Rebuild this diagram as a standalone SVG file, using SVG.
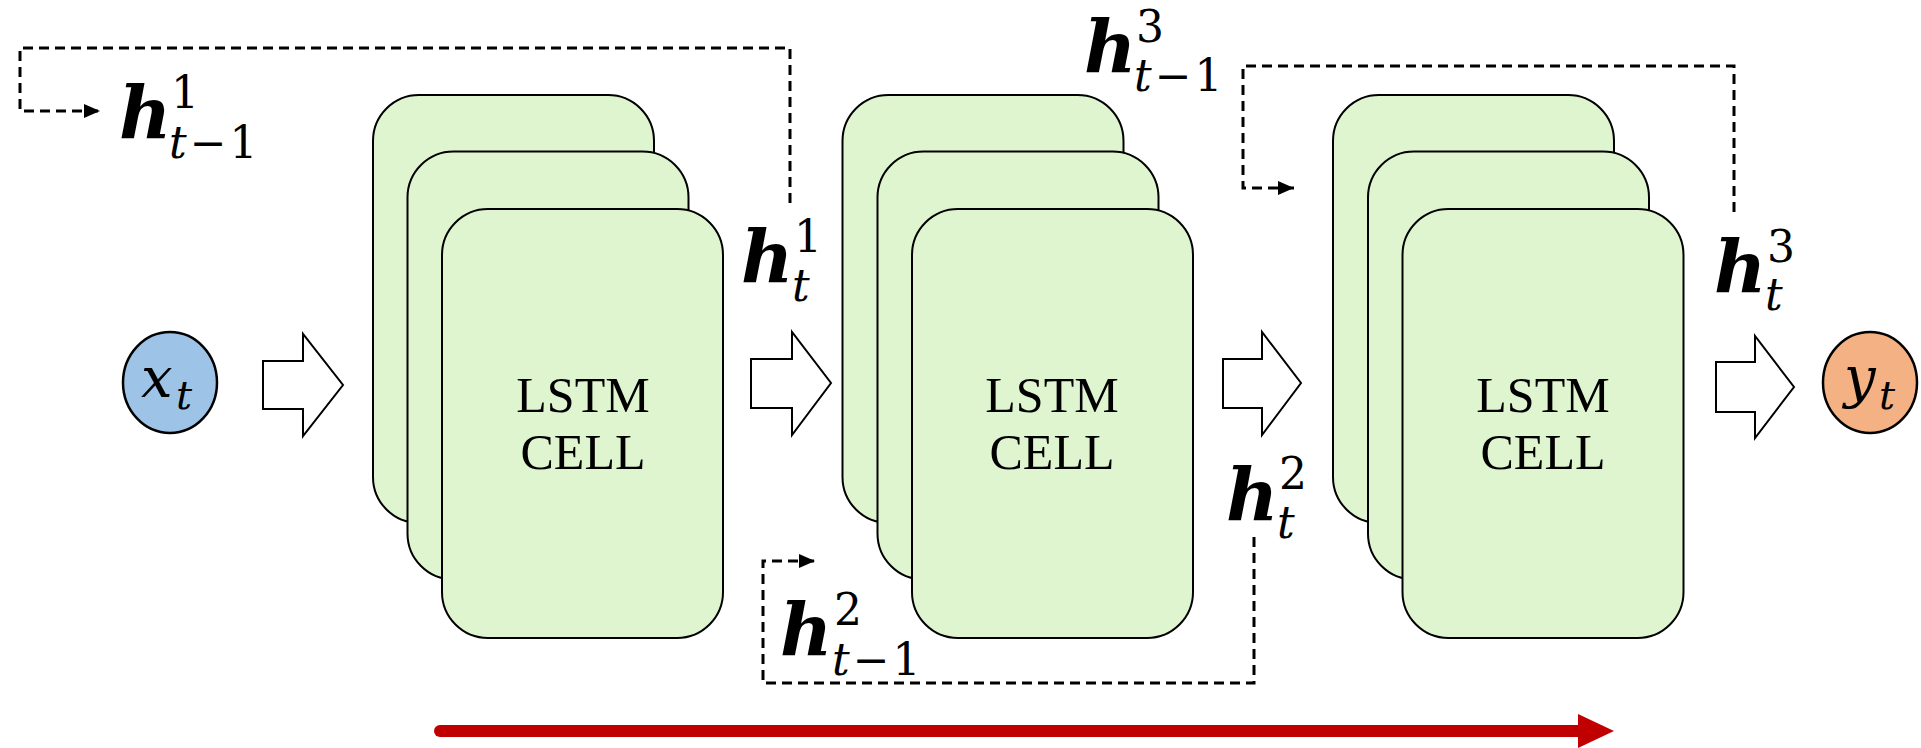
<svg xmlns="http://www.w3.org/2000/svg" width="1921" height="748" viewBox="0 0 1921 748">
  <style>
    .cell { fill: #DFF5CF; stroke: #000; stroke-width: 2; }
    .block { fill: #fff; stroke: #000; stroke-width: 2; stroke-linejoin: miter; }
    .dash { fill: none; stroke: #000; stroke-width: 3; stroke-dasharray: 10 6; }
    .cap { font-family: "Liberation Serif", "Times New Roman", serif; font-size: 50px; text-anchor: middle; fill: #000; }
    .lbl { font-family: "DejaVu Serif", serif; font-size: 44px; fill: #000; }
    .h { font-weight: bold; font-style: italic; font-size: 72px; }
    .it { font-style: italic; }
    .var { font-family: "DejaVu Serif", serif; font-style: italic; fill: #000; }
  </style>
  <defs>
    <marker id="tip" viewBox="0 0 16 14" refX="16" refY="7" markerWidth="16" markerHeight="14" markerUnits="userSpaceOnUse" orient="auto">
      <path d="M0,0 L16,7 L0,14 Z" fill="#000"/>
    </marker>
  </defs>

  <!-- input node -->
  <g id="input-x">
    <ellipse cx="170" cy="382.5" rx="47" ry="50.5" fill="#9DC3E6" stroke="#000" stroke-width="2.5"/>
    <text class="var" font-size="56"><tspan x="141" y="397">x</tspan><tspan x="176" y="409" font-size="40">t</tspan></text>
  </g>

  <!-- layer 1 -->
  <g id="lstm-1">
    <rect class="cell" x="373" y="95" width="281" height="428" rx="46" ry="46"/>
    <rect class="cell" x="407.5" y="151.5" width="281" height="428" rx="46" ry="46"/>
    <rect class="cell" x="442" y="209" width="281" height="429" rx="46" ry="46"/>
    <text class="cap" x="583" y="412">LSTM</text>
    <text class="cap" x="583" y="469">CELL</text>
  </g>

  <!-- layer 2 -->
  <g id="lstm-2">
    <rect class="cell" x="842.5" y="95" width="281" height="428" rx="46" ry="46"/>
    <rect class="cell" x="877.5" y="151.5" width="281" height="428" rx="46" ry="46"/>
    <rect class="cell" x="912" y="209" width="281" height="429" rx="46" ry="46"/>
    <text class="cap" x="1052" y="412">LSTM</text>
    <text class="cap" x="1052" y="469">CELL</text>
  </g>

  <!-- layer 3 -->
  <g id="lstm-3">
    <rect class="cell" x="1333" y="95" width="281" height="428" rx="46" ry="46"/>
    <rect class="cell" x="1368" y="151.5" width="281" height="428" rx="46" ry="46"/>
    <rect class="cell" x="1402.5" y="209" width="281" height="429" rx="46" ry="46"/>
    <text class="cap" x="1543" y="412">LSTM</text>
    <text class="cap" x="1543" y="469">CELL</text>
  </g>

  <!-- output node -->
  <g id="output-y">
    <ellipse cx="1870" cy="382.5" rx="47" ry="50.5" fill="#F4B183" stroke="#000" stroke-width="2.5"/>
    <text class="var" font-size="56"><tspan x="1844" y="397">y</tspan><tspan x="1879" y="409" font-size="40">t</tspan></text>
  </g>

  <!-- connectors -->
  <g id="connectors">
    <path class="block" d="M263,361 H303 V334 L343,385 L303,436 V409 H263 Z"/>
    <path class="block" d="M751,359 H792 V332 L831,383 L792,435 V408 H751 Z"/>
    <path class="block" d="M1223,359 H1262 V332 L1301,383 L1262,435 V408 H1223 Z"/>
    <path class="block" d="M1716,362 H1755 V336 L1794,387 L1755,438 V412 H1716 Z"/>

    <path class="dash" d="M790,203 V48 H20 V111 H100" marker-end="url(#tip)"/>
    <path class="dash" d="M1254,537 V683 H763 V561 H815" marker-end="url(#tip)"/>
    <path class="dash" d="M1734,212 V66 H1243 V188 H1294" marker-end="url(#tip)"/>

    <line x1="440" y1="731" x2="1585" y2="731" stroke="#C00000" stroke-width="12" stroke-linecap="round"/>
    <polygon points="1578,714 1614,731 1578,748" fill="#C00000"/>
  </g>

  <!-- hidden-state labels: bold h with stacked superscript (layer) and subscript (time step) -->
  <g id="labels">
    <text class="lbl"><tspan class="h" x="119" y="139">h</tspan><tspan x="171" y="108">1</tspan><tspan x="169" y="158" class="it">t</tspan><tspan dx="3">−</tspan><tspan dx="3">1</tspan></text>
    <text class="lbl"><tspan class="h" x="741" y="283">h</tspan><tspan x="794" y="252">1</tspan><tspan x="792" y="301" class="it">t</tspan></text>
    <text class="lbl"><tspan class="h" x="1084" y="73">h</tspan><tspan x="1136" y="42">3</tspan><tspan x="1134" y="91" class="it">t</tspan><tspan dx="3">−</tspan><tspan dx="3">1</tspan></text>
    <text class="lbl"><tspan class="h" x="1714" y="293">h</tspan><tspan x="1767" y="262">3</tspan><tspan x="1765" y="310" class="it">t</tspan></text>
    <text class="lbl"><tspan class="h" x="1226" y="521">h</tspan><tspan x="1279" y="489">2</tspan><tspan x="1277" y="538" class="it">t</tspan></text>
    <text class="lbl"><tspan class="h" x="780" y="656">h</tspan><tspan x="834" y="625">2</tspan><tspan x="832" y="675" class="it">t</tspan><tspan dx="3">−</tspan><tspan dx="3">1</tspan></text>
  </g>
</svg>
